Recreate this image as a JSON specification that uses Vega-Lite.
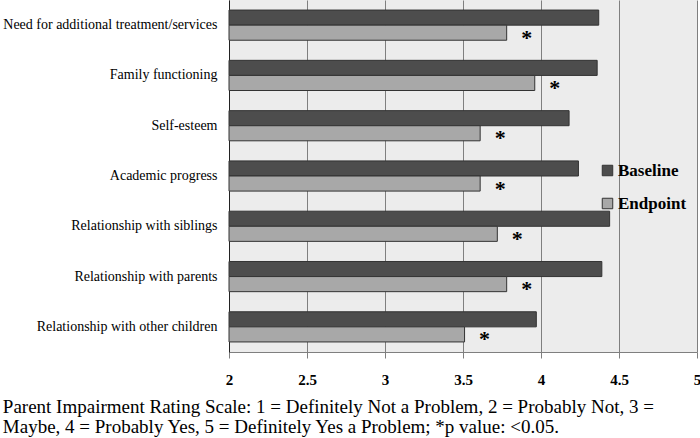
{
  "$schema": "https://vega.github.io/schema/vega-lite/v6.json",
  "width": 468,
  "height": 352,
  "autosize": "none",
  "padding": {"left": 229, "top": 0, "right": 3, "bottom": 86},
  "background": "white",
  "config": {
    "view": {"fill": "#ececec", "stroke": null}
  },
  "title": {
    "text": ["Parent Impairment Rating Scale: 1 = Definitely Not a Problem, 2 = Probably Not, 3 =", "Maybe, 4 = Probably Yes, 5 = Definitely Yes a Problem; *p value: <0.05."],
    "orient": "bottom",
    "anchor": "start",
    "frame": "bounds",
    "font": "Liberation Serif",
    "fontSize": 19,
    "fontWeight": "normal",
    "color": "#000000",
    "lineHeight": 20,
    "offset": 11
  },
  "data": {
    "values": [
      {"category": "Need for additional treatment/services", "series": "Baseline", "value": 4.37},
      {"category": "Need for additional treatment/services", "series": "Endpoint", "value": 3.78, "sig": "*"},
      {"category": "Family functioning", "series": "Baseline", "value": 4.36},
      {"category": "Family functioning", "series": "Endpoint", "value": 3.96, "sig": "*"},
      {"category": "Self-esteem", "series": "Baseline", "value": 4.18},
      {"category": "Self-esteem", "series": "Endpoint", "value": 3.61, "sig": "*"},
      {"category": "Academic progress", "series": "Baseline", "value": 4.24},
      {"category": "Academic progress", "series": "Endpoint", "value": 3.61, "sig": "*"},
      {"category": "Relationship with siblings", "series": "Baseline", "value": 4.44},
      {"category": "Relationship with siblings", "series": "Endpoint", "value": 3.72, "sig": "*"},
      {"category": "Relationship with parents", "series": "Baseline", "value": 4.39},
      {"category": "Relationship with parents", "series": "Endpoint", "value": 3.78, "sig": "*"},
      {"category": "Relationship with other children", "series": "Baseline", "value": 3.97},
      {"category": "Relationship with other children", "series": "Endpoint", "value": 3.51, "sig": "*"}
    ]
  },
  "encoding": {
    "y": {
      "field": "category",
      "type": "nominal",
      "sort": null,
      "scale": {"paddingInner": 0.4, "paddingOuter": 0.2},
      "axis": {
        "title": null,
        "labelFont": "Liberation Serif",
        "labelFontSize": 14,
        "labelColor": "#000000",
        "labelPadding": 12,
        "labelLimit": 300,
        "ticks": false,
        "domainColor": "#222222",
        "domainWidth": 1
      }
    },
    "yOffset": {"field": "series", "type": "nominal", "scale": {"domain": ["Baseline", "Endpoint"], "padding": 0}},
    "x": {
      "field": "value",
      "type": "quantitative",
      "scale": {"domain": [2, 5], "nice": false, "zero": false},
      "axis": {
        "title": null,
        "values": [2, 2.5, 3, 3.5, 4, 4.5, 5],
        "format": "~g",
        "grid": true,
        "gridColor": "#7f7f7f",
        "gridOpacity": 1,
        "gridWidth": 1,
        "domainColor": "#7f7f7f",
        "tickColor": "#7f7f7f",
        "tickSize": 6,
        "labelFont": "Liberation Serif",
        "labelFontSize": 15,
        "labelFontWeight": "bold",
        "labelColor": "#000000",
        "labelPadding": 14,
        "labelFlush": false
      }
    }
  },
  "layer": [
    {
      "mark": {"type": "bar", "stroke": "#333333", "strokeWidth": 1},
      "encoding": {
        "x2": {"datum": 2},
        "color": {
          "field": "series",
          "type": "nominal",
          "scale": {"domain": ["Baseline", "Endpoint"], "range": ["#4d4d4d", "#a8a8a8"]},
          "legend": {
            "title": null,
            "orient": "none",
            "legendX": 370,
            "legendY": 162,
            "symbolType": "square",
            "symbolSize": 110,
            "symbolStrokeColor": "#333333",
            "symbolStrokeWidth": 1,
            "symbolOpacity": 1,
            "labelFont": "Liberation Serif",
            "labelFontSize": 17,
            "labelFontWeight": "bold",
            "labelColor": "#000000",
            "labelOffset": 2,
            "rowPadding": 15
          }
        }
      }
    },
    {
      "transform": [{"filter": "datum.series === 'Endpoint'"}],
      "mark": {"type": "text", "font": "Liberation Serif", "fontSize": 22, "fontWeight": "bold", "color": "#000000", "align": "center", "baseline": "alphabetic", "dx": 20, "dy": 12},
      "encoding": {
        "text": {"field": "sig"}
      }
    }
  ]
}
